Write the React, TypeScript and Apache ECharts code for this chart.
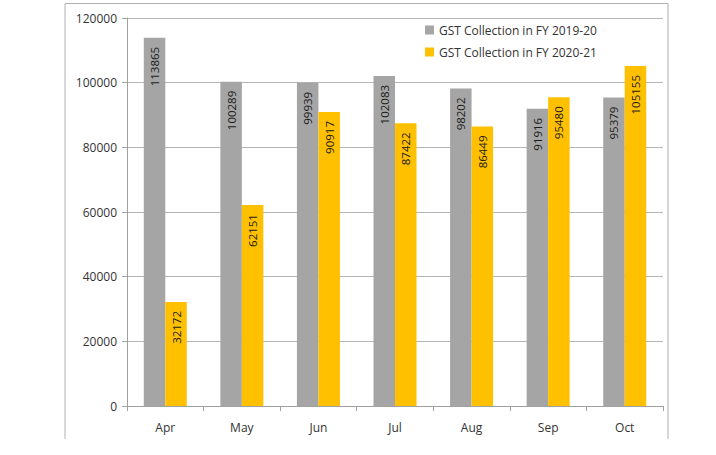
import React, { useEffect, useRef } from "react";
import * as echarts from "echarts";

const categories = ["Apr", "May", "Jun", "Jul", "Aug", "Sep", "Oct"];
const fy2019 = [113865, 100289, 99939, 102083, 98202, 91916, 95379];
const fy2020 = [32172, 62151, 90917, 87422, 86449, 95480, 105155];
const seriesNames = ["GST Collection in FY 2019-20", "GST Collection in FY 2020-21"];
const colors = ["#A5A5A5", "#FFC000"];

const FONT = "Open Sans";

export default function App() {
  const ref = useRef<HTMLDivElement>(null);
  useEffect(() => {
    document.body.style.margin = "0";
    const chart = echarts.init(ref.current!, null, { renderer: "svg" });
    const label = {
      show: true,
      position: "insideTop",
      rotate: 90,
      align: "right",
      verticalAlign: "middle",
      distance: 9,
      color: "#1a1a1a",
      fontSize: 11.5,
      fontFamily: FONT,
    };
    chart.setOption({
      animation: false,
      backgroundColor: "#fff",
      graphic: [
        {
          type: "polyline",
          shape: { points: [[65, 439], [65, 3.5], [668, 3.5], [668, 439]] },
          style: { stroke: "#B0B0B0", fill: "none", lineWidth: 1 },
          silent: true,
        },
      ],
      grid: { left: 127, right: 716 - 663, top: 18, bottom: 455 - 406 },
      legend: {
        orient: "vertical",
        left: 420,
        top: 19,
        itemWidth: 9,
        itemHeight: 9,
        itemGap: 10,
        icon: "rect",
        textStyle: { fontFamily: FONT, fontSize: 12, color: "#333" },
        data: seriesNames,
      },
      xAxis: {
        type: "category",
        data: categories,
        axisLine: { lineStyle: { color: "#A0A0A0" } },
        axisTick: { show: true, length: 5, lineStyle: { color: "#A0A0A0" } },
        axisLabel: { margin: 15, color: "#333", fontSize: 12, fontFamily: FONT },
      },
      yAxis: {
        type: "value",
        min: 0,
        max: 120000,
        interval: 20000,
        axisLine: { show: true, lineStyle: { color: "#A0A0A0" } },
        axisTick: { show: true, length: 5, lineStyle: { color: "#A0A0A0" } },
        axisLabel: {
          margin: 10,
          color: "#333",
          fontSize: 12,
          fontFamily: FONT,
          formatter: (v: number) => String(v),
        },
        splitLine: { lineStyle: { color: "#B5B5B5" } },
      },
      series: [
        {
          name: seriesNames[0],
          type: "bar",
          data: fy2019,
          barWidth: 21.5,
          barGap: "0%",
          itemStyle: { color: colors[0] },
          label,
        },
        {
          name: seriesNames[1],
          type: "bar",
          data: fy2020,
          barWidth: 21.5,
          barGap: "0%",
          itemStyle: { color: colors[1] },
          label,
        },
      ],
    });
    return () => chart.dispose();
  }, []);
  return <div ref={ref} style={{ width: 716, height: 455 }} />;
}
